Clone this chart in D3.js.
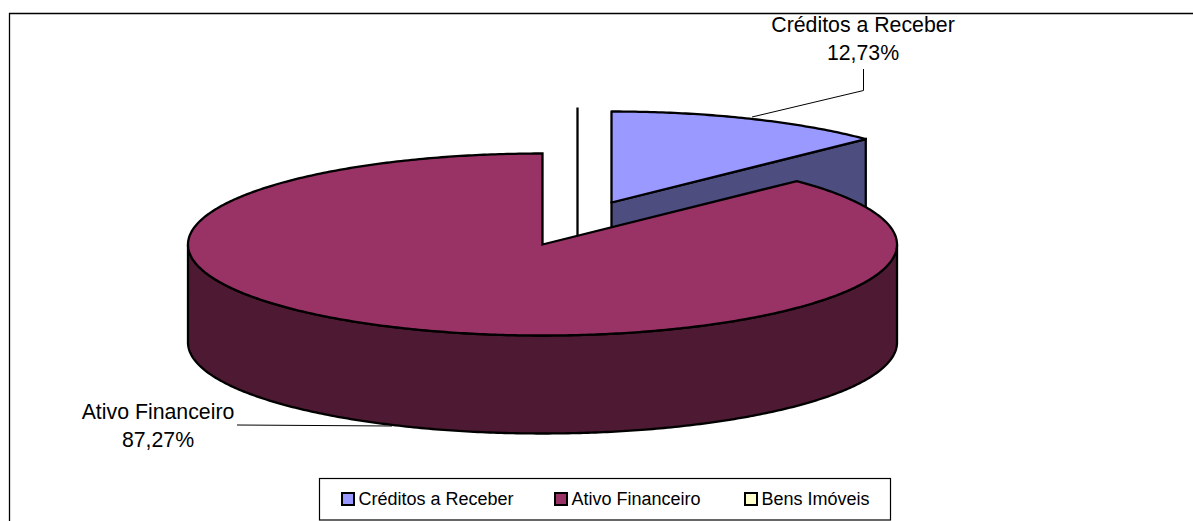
<!DOCTYPE html>
<html><head><meta charset="utf-8"><style>html,body{margin:0;background:#fff}svg{display:block}text{font-family:"Liberation Sans",Arial,sans-serif;fill:#000}</style>
<script src="https://cdn.jsdelivr.net/npm/d3@7"></script></head><body><script>
const categories=["Créditos a Receber","Ativo Financeiro","Bens Imóveis"];
const values=[12.73,87.27,0];
const pctLabels=["12,73%","87,27%"];
const topColors=["#9999ff","#993366","#ffffcc"];
const sideColors=["#4d4d80","#4d1933","#808066"];
const W=1193,H=521;
const svg=d3.select("body").append("svg").attr("width",W).attr("height",H);
const cx=542.5,cy=244.5,rx=354.5,ry=91,depth=98;
const px=d3.scaleLinear().domain([-1,1]).range([cx-rx,cx+rx]);
const py=d3.scaleLinear().domain([-1,1]).range([cy-ry,cy+ry]);
const arcs=d3.pie().sort(null).value(d=>d)(values);
const line=d3.line();
const off={0:[69,-42],1:[0,0],2:[35,-46]};
function P(a,o,dz=0){return [px(Math.sin(a))+o[0],py(-Math.cos(a))+o[1]+dz];}
function rim(a0,a1,o,dz=0){const n=Math.max(2,Math.ceil(Math.abs(a1-a0)*90));return d3.range(n+1).map(i=>P(a0+(a1-a0)*i/n,o,dz));}
const apex=(o,dz=0)=>[cx+o[0],cy+o[1]+dz];
svg.append("path").attr("d","M9.5,521V13.5H1193").attr("fill","none").attr("stroke","#000").attr("stroke-width",1.3);
const sw=2.3;
{const o=off[2],a=arcs[2].startAngle;
 svg.append("path").attr("d",line([P(a,o),apex(o),apex(o,depth)])).attr("fill","none").attr("stroke","#000").attr("stroke-width",sw);}
{const o=off[0],a0=arcs[0].startAngle,a1=arcs[0].endAngle;
 svg.append("path").attr("d",line([apex(o),P(a1,o),P(a1,o,depth),apex(o,depth)])+"Z").attr("fill",sideColors[0]).attr("stroke","#000").attr("stroke-width",sw);
 svg.append("path").attr("d",line([apex(o),...rim(a0,a1,o)])+"Z").attr("fill",topColors[0]).attr("stroke","#000").attr("stroke-width",sw).attr("stroke-linejoin","round");}
{const o=off[1],a0=arcs[1].startAngle,a1=arcs[1].endAngle;
 const front=rim(Math.PI/2,Math.PI*1.5,o);
 const back=rim(Math.PI*1.5,Math.PI/2,o,depth);
 svg.append("path").attr("d",line([...front,...back])+"Z").attr("fill",sideColors[1]).attr("stroke","#000").attr("stroke-width",sw);
 svg.append("path").attr("d",line([apex(o),...rim(a0,a1,o)])+"Z").attr("fill",topColors[1]).attr("stroke","#000").attr("stroke-width",sw);}
const leaders=[[[752,117],[863.5,90.5],[863.5,69]],[[237,425],[392,426]]];
leaders.forEach(l=>svg.append("path").attr("d",line(l)).attr("fill","none").attr("stroke","#000").attr("stroke-width",1));
const labelPos=[[863,32,60],[158,419,447]];
[0,1].forEach(i=>{const g=svg.append("g").attr("font-size",21.3);
 g.append("text").attr("x",labelPos[i][0]).attr("y",labelPos[i][1]).attr("text-anchor","middle").text(categories[i]);
 g.append("text").attr("x",labelPos[i][0]).attr("y",labelPos[i][2]).attr("text-anchor","middle").text(pctLabels[i]);});
svg.append("rect").attr("x",319.5).attr("y",478.5).attr("width",571).attr("height",41.5).attr("fill","#fff").attr("stroke","#000").attr("stroke-width",1.2);
const legX=[342,555,745];
categories.forEach((c,i)=>{
 svg.append("rect").attr("x",legX[i]).attr("y",493).attr("width",12).attr("height",12).attr("fill",topColors[i]).attr("stroke","#000").attr("stroke-width",2);
 svg.append("text").attr("x",legX[i]+16.5).attr("y",505).attr("font-size",18).text(c);
});
</script></body></html>
